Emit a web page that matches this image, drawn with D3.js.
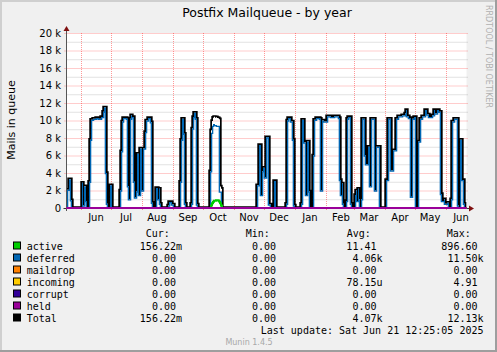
<!DOCTYPE html>
<html><head><meta charset="utf-8">
<script src="https://cdn.jsdelivr.net/npm/d3@7"></script>
<style>html,body{margin:0;padding:0;background:#fff}svg{display:block}</style>
</head><body><svg id="c" width="497" height="352"></svg>
<script>
// ---------- data ----------
const seriesStart = "2024-05-17";          // day 0 of the day offsets below
const lastUpdate = "2025-06-21T12:25:05";
const spanDays = 400;

// deferred: step values, value holds from that day until the next entry
const deferredDay = [
  1,3,5,6,
  16,17,18,20,21,
  23,24,25,27,30,33,35,37,38,40,41,42,
  44,46,
  54,55,56,57,61,62,63,64,65,66,68,69,
  70,71,73,74,76,77,79,80,82,85,86,87,
  90,92,93,94,95,
  102,103,106,108,
  114,115,116,118,119,120,
  125,126,127,128,130,131,132,
  144,145,146,147,149,151,154,156,
  191,193,195,196,197,199,200,203,205,208,210,
  220,221,222,225,227,228,229,
  235,236,238,240,241,243,244,
  247,248,250,254,255,256,258,261,265,268,273,274,275,276,277,278,
  280,281,282,285,286,
  289,290,291,292,293,294,
  295,296,299,300,302,304,305,309,310,314,
  320,322,325,327,330,332,336,339,340,341,343,345,346,348,350,
  352,354,356,359,361,363,366,368,369,371,373,375,376,378,379,381,383,
  385,386,388,392,393,394,396,398,399
];
const deferredVal = [
  2100,3300,900,0,
  2900,300,2500,800,0,
  3000,7800,10100,10200,10300,10200,10400,11000,11500,4000,500,0,
  2600,0,
  2000,6500,9900,10300,10200,2500,1000,10200,10600,10400,3000,1200,
  1900,6200,1500,6800,2000,6800,8700,10000,10300,9800,600,0,
  2300,1000,2200,500,0,
  300,700,400,0,
  3000,7800,10200,8500,500,0,
  500,9100,10400,10900,10200,400,0,
  4200,8600,9400,9600,9500,9400,1900,0,
  2600,7200,1500,4200,4600,3500,8100,400,0,3100,0,
  500,10000,10300,9900,7800,300,0,
  500,10100,7500,1500,7600,1900,0,
  6000,10100,10300,10200,2000,10000,9900,10500,10400,10500,10300,3200,1500,2800,500,0,
  800,10200,10400,500,0,
  1500,2000,800,2200,1000,0,
  1000,10200,6000,5000,7000,2500,10200,2000,7000,0,
  3200,10200,4300,6600,10200,10500,10600,10800,11200,10500,10300,1300,10200,10400,0,
  7600,10200,10500,11200,10700,10400,10600,11200,10800,11200,11000,1600,800,1000,500,600,0,
  1000,9900,10200,300,0,7800,3200,500,0
];
// active
const activeDay = [145,146,147,148,150,152,153,154,155,156];
const activeVal = [300,550,720,820,880,850,750,550,300,0];

const monthStarts = ["2024-06-01","2024-07-01","2024-08-01","2024-09-01","2024-10-01","2024-11-01",
  "2024-12-01","2025-01-01","2025-02-01","2025-03-01","2025-04-01","2025-05-01","2025-06-01"];
const monthLabels = ["Jun","Jul","Aug","Sep","Oct","Nov","Dec","Jan","Feb","Mar","Apr","May","Jun"];
const yMajor = [0,2000,4000,6000,8000,10000,12000,14000,16000,18000,20000];
const yMajorLabels = ["0","2 k","4 k","6 k","8 k","10 k","12 k","14 k","16 k","18 k","20 k"];
const yMinor = [1000,3000,5000,7000,9000,11000,13000,15000,17000,19000];

const legendNames = ["active","deferred","maildrop","incoming","corrupt","held","Total"];
const legendColors = ["#00CC00","#0066B3","#FF8000","#FFCC00","#330099","#990099","#000000"];
const curVals = ["156.22m","0.00","0.00","0.00","0.00","0.00","156.22m"];
const minVals = ["0.00","0.00","0.00","0.00","0.00","0.00","0.00"];
const avgVals = ["11.41","4.06k","0.00","78.15u","0.00","0.00","4.07k"];
const maxVals = ["896.60","11.50k","0.00","4.91","0.00","0.00","12.13k"];

// ---------- drawing ----------
const svg = d3.select("#c");
const W = 497, H = 352;
const L = 66.5, R = 466.5, T = 33, B = 208;
const parseDay = d3.timeParse("%Y-%m-%d");
const t0 = parseDay(seriesStart);
const tEnd = d3.timeParse("%Y-%m-%dT%H:%M:%S")(lastUpdate);
const tStart = new Date(tEnd.getTime() - spanDays * 86400000);
const x = d3.scaleTime().domain([tStart, tEnd]).range([L, R]);
const y = d3.scaleLinear().domain([0, 20000]).range([B, T]);

// background + frame
svg.append("rect").attr("width", W).attr("height", H).attr("fill", "#F0F0F0");
svg.append("rect").attr("x", 0).attr("y", 0).attr("width", W).attr("height", 2).attr("fill", "#CFCFCF");
svg.append("rect").attr("x", 0).attr("y", 0).attr("width", 2).attr("height", H).attr("fill", "#CFCFCF");
svg.append("rect").attr("x", 0).attr("y", H - 2).attr("width", W).attr("height", 2).attr("fill", "#9E9E9E");
svg.append("rect").attr("x", W - 2).attr("y", 0).attr("width", 2).attr("height", H).attr("fill", "#9E9E9E");
svg.append("rect").attr("x", L).attr("y", T).attr("width", R - L).attr("height", B - T).attr("fill", "#FFFFFF");

const defs = svg.append("defs");
defs.append("clipPath").attr("id", "plotclip").append("rect")
  .attr("x", L).attr("y", T - 2).attr("width", R - L).attr("height", B - T + 2);

// grid
const gGrid = svg.append("g");
yMinor.forEach(v => gGrid.append("line").attr("x1", L).attr("x2", R + 1).attr("y1", y(v) + 0.5).attr("y2", y(v) + 0.5)
  .attr("stroke", "rgba(128,128,128,0.45)").attr("stroke-dasharray", "1,1"));
yMajor.filter(v => v > 0).forEach(v => gGrid.append("line").attr("x1", L - 2).attr("x2", R + 1).attr("y1", y(v) + 0.5).attr("y2", y(v) + 0.5)
  .attr("stroke", "rgba(255,0,0,0.4)").attr("stroke-dasharray", "1,1"));
monthStarts.forEach(s => {
  const xx = Math.round(x(parseDay(s))) + 0.5;
  gGrid.append("line").attr("x1", xx).attr("x2", xx).attr("y1", T).attr("y2", B + 3)
    .attr("stroke", "rgba(255,0,0,0.4)").attr("stroke-dasharray", "1,1");
});

// y tick labels
const gY = svg.append("g").attr("font-family", "DejaVu Sans").attr("font-size", 10).attr("fill", "#000");
yMajor.forEach((v, i) => gY.append("text").attr("x", 61).attr("y", y(v) + 3.5).attr("text-anchor", "end").text(yMajorLabels[i]));
// x labels (centered mid-month)
monthStarts.forEach((s, i) => {
  const c = x(d3.timeDay.offset(parseDay(s), 15));
  gY.append("text").attr("x", c).attr("y", 221).attr("text-anchor", "middle").text(monthLabels[i]);
});

// series helpers
function stepAt(days, vals, d) {
  let v = 0;
  for (let i = 0; i < days.length; i++) { if (days[i] <= d) v = vals[i]; else break; }
  return v;
}
function buildPts(days, vals) {
  const pts = [{ t: d3.timeDay.offset(t0, 0), v: 0 }];
  days.forEach((d, i) => pts.push({ t: d3.timeDay.offset(t0, d), v: vals[i] }));
  pts.push({ t: tEnd, v: vals[vals.length - 1] });
  return pts;
}
const deferredPts = buildPts(deferredDay, deferredVal);
const activePts = buildPts(activeDay, activeVal);
const totalDays = Array.from(new Set(deferredDay.concat(activeDay))).sort((a, b) => a - b);
const totalVals = totalDays.map(d => stepAt(deferredDay, deferredVal, d) + stepAt(activeDay, activeVal, d));
const totalPts = buildPts(totalDays, totalVals);

const line = d3.line().curve(d3.curveStepAfter).x(p => x(p.t)).y(p => y(p.v));
const area = d3.area().curve(d3.curveStepAfter).x(p => x(p.t)).y0(y(0)).y1(p => y(p.v));

// mask: outside of total area ; clip: inside of deferred area
const m = defs.append("mask").attr("id", "outTotal").attr("maskUnits", "userSpaceOnUse")
  .attr("x", 0).attr("y", 0).attr("width", W).attr("height", H);
m.append("rect").attr("x", 0).attr("y", 0).attr("width", W).attr("height", B).attr("fill", "white");
m.append("path").attr("d", area(totalPts)).attr("fill", "black");
defs.append("clipPath").attr("id", "inDeferred").append("path").attr("d", area(deferredPts));

const gPlot = svg.append("g").attr("clip-path", "url(#plotclip)");
// Total (black, outer side)
gPlot.append("path").attr("d", line(totalPts)).attr("fill", "none").attr("stroke", legendColors[6])
  .attr("stroke-width", 3.4).attr("stroke-linejoin", "miter").attr("mask", "url(#outTotal)");
// deferred (blue, inner side)
gPlot.append("g").attr("clip-path", "url(#inDeferred)").append("path").attr("d", line(deferredPts))
  .attr("fill", "none").attr("stroke", legendColors[1]).attr("stroke-width", 2.6);
// active
gPlot.append("path").attr("d", line(activePts)).attr("fill", "none").attr("stroke", legendColors[0]).attr("stroke-width", 2);

// axes
svg.append("line").attr("x1", L).attr("x2", L).attr("y1", 29).attr("y2", 211).attr("stroke", "#555").attr("stroke-width", 1);
svg.append("line").attr("x1", L - 3).attr("x2", 470).attr("y1", B + 0.5).attr("y2", B + 0.5).attr("stroke", "#333").attr("stroke-width", 1);
// zero-valued series (maildrop, incoming, corrupt, held) - held drawn last
const zeroPts = [{ t: tStart, v: 0 }, { t: tEnd, v: 0 }];
[2, 3, 4, 5].forEach(i => svg.append("path").attr("d", line(zeroPts)).attr("fill", "none")
  .attr("stroke", legendColors[i]).attr("stroke-width", 2));
// arrows
svg.append("path").attr("d", `M${L - 3},31 L${L + 3},31 L${L},26 Z`).attr("fill", "#7F1010");
svg.append("path").attr("d", `M469,${B - 2.5} L469,${B + 3.5} L474,${B + 0.5} Z`).attr("fill", "#7F1010");

// title
svg.append("text").attr("x", 267).attr("y", 16.5).attr("text-anchor", "middle")
  .attr("font-family", "DejaVu Sans").attr("font-size", 12.5).attr("fill", "#000").text("Postfix Mailqueue - by year");
// y axis title
svg.append("text").attr("transform", "translate(15,120) rotate(-90)").attr("text-anchor", "middle")
  .attr("font-family", "DejaVu Sans").attr("font-size", 11).attr("fill", "#000").text("Mails in queue");
// watermark
svg.append("text").attr("transform", "translate(486,5) rotate(90)").attr("text-anchor", "start")
  .attr("font-family", "DejaVu Sans").attr("font-size", 8).attr("fill", "#B0B0B0").text("RRDTOOL / TOBI OETIKER");

// legend
const gL = svg.append("g").attr("font-family", "DejaVu Sans Mono").attr("font-size", 10).attr("fill", "#000");
const cw = 6.02;
[["Cur:", 145.7], ["Min:", 245.7], ["Avg:", 346.7], ["Max:", 446.7]].forEach(h =>
  gL.append("text").attr("x", h[1]).attr("y", 237).text(h[0]));
const colRight = [182, 282, 382.5, 483.5];
function putVal(str, right, yy) {
  const hasSuffix = /[a-zA-Z]$/.test(str);
  gL.append("text").attr("x", hasSuffix ? right : right - cw).attr("y", yy).attr("text-anchor", "end").text(str);
}
legendNames.forEach((n, i) => {
  const yy = 249.5 + i * 12;
  gL.append("rect").attr("x", 13.5).attr("y", yy - 7.5).attr("width", 7).attr("height", 7)
    .attr("fill", legendColors[i]).attr("stroke", "#000").attr("stroke-width", 1);
  gL.append("text").attr("x", 26.7).attr("y", yy).text(n);
  putVal(curVals[i], colRight[0], yy);
  putVal(minVals[i], colRight[1], yy);
  putVal(avgVals[i], colRight[2], yy);
  putVal(maxVals[i], colRight[3], yy);
});
gL.append("text").attr("x", 483.5).attr("y", 333.5).attr("text-anchor", "end")
  .text("Last update: Sat Jun 21 12:25:05 2025");
svg.append("text").attr("x", 249).attr("y", 344.5).attr("text-anchor", "middle")
  .attr("font-family", "DejaVu Sans").attr("font-size", 8).attr("fill", "#A8A8A8").text("Munin 1.4.5");
</script></body></html>
